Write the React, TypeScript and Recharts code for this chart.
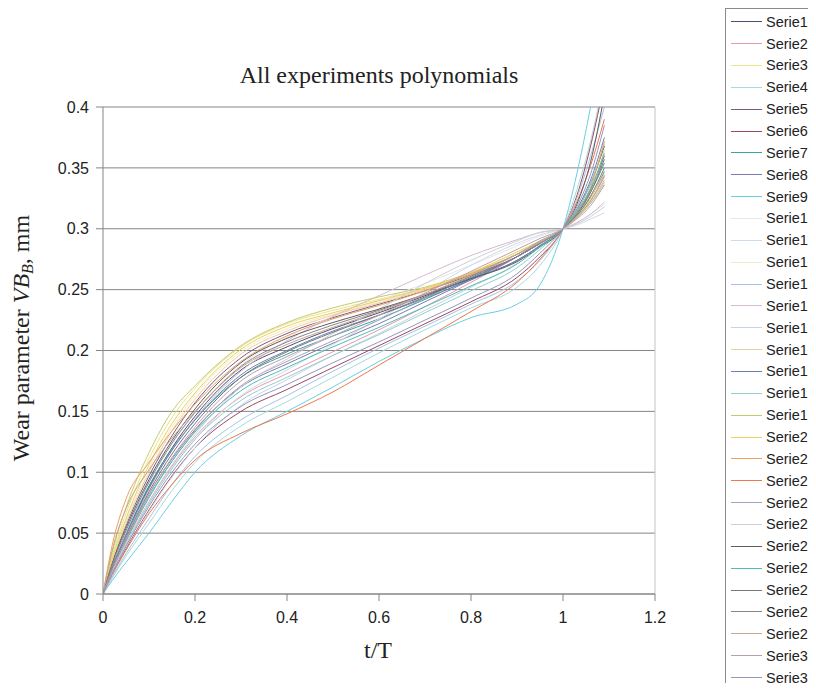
import React from "react";
import {
  LineChart,
  Line,
  XAxis,
  YAxis,
  CartesianGrid,
  Legend,
  ReferenceLine,
  Label,
} from "recharts";

// x positions (t/T) at which each polynomial was read
const T = [0, 0.02, 0.05, 0.1, 0.15, 0.2, 0.3, 0.4, 0.5, 0.6, 0.7, 0.8, 0.9, 0.95, 1, 1.03, 1.06, 1.09];

const serie1 = [0, 0.022, 0.049, 0.088, 0.12, 0.146, 0.184, 0.203, 0.218, 0.231, 0.245, 0.259, 0.274, 0.286, 0.3, 0.315, 0.337, 0.368];
const serie2 = [0, 0.018, 0.041, 0.076, 0.105, 0.129, 0.162, 0.181, 0.199, 0.217, 0.236, 0.256, 0.277, 0.289, 0.3, 0.309, 0.322, 0.34];
const serie3 = [0, 0.031, 0.066, 0.111, 0.145, 0.169, 0.203, 0.222, 0.233, 0.242, 0.251, 0.263, 0.279, 0.289, 0.3, 0.31, 0.325, 0.345];
const serie4 = [0, 0.013, 0.031, 0.058, 0.085, 0.108, 0.138, 0.158, 0.178, 0.198, 0.217, 0.235, 0.252, 0.27, 0.3, 0.332, 0.372, 0.425];
const serie5 = [0, 0.026, 0.056, 0.097, 0.13, 0.157, 0.194, 0.214, 0.227, 0.238, 0.249, 0.262, 0.277, 0.288, 0.3, 0.313, 0.332, 0.36];
const serie6 = [0, 0.016, 0.037, 0.069, 0.097, 0.12, 0.15, 0.168, 0.186, 0.204, 0.222, 0.24, 0.26, 0.277, 0.3, 0.327, 0.368, 0.42];
const serie7 = [0, 0.023, 0.05, 0.089, 0.119, 0.143, 0.178, 0.197, 0.212, 0.226, 0.242, 0.259, 0.277, 0.288, 0.3, 0.312, 0.33, 0.354];
const serie8 = [0, 0.02, 0.045, 0.082, 0.111, 0.135, 0.17, 0.189, 0.206, 0.222, 0.24, 0.258, 0.277, 0.289, 0.3, 0.311, 0.326, 0.347];
const serie9 = [0, 0.011, 0.026, 0.05, 0.076, 0.1, 0.13, 0.15, 0.17, 0.191, 0.21, 0.227, 0.238, 0.254, 0.3, 0.345, 0.4, 0.46];
const serie10 = [0, 0.023, 0.051, 0.091, 0.123, 0.149, 0.188, 0.211, 0.228, 0.241, 0.255, 0.27, 0.286, 0.294, 0.3, 0.305, 0.312, 0.32];
const serie11 = [0, 0.017, 0.04, 0.074, 0.103, 0.127, 0.163, 0.184, 0.205, 0.226, 0.248, 0.27, 0.288, 0.295, 0.3, 0.303, 0.308, 0.313];
const serie12 = [0, 0.028, 0.06, 0.103, 0.137, 0.163, 0.199, 0.218, 0.23, 0.24, 0.251, 0.264, 0.28, 0.29, 0.3, 0.309, 0.322, 0.342];
const serie13 = [0, 0.014, 0.033, 0.062, 0.09, 0.113, 0.143, 0.163, 0.183, 0.202, 0.22, 0.238, 0.257, 0.274, 0.3, 0.325, 0.36, 0.4];
const serie14 = [0, 0.022, 0.048, 0.086, 0.118, 0.144, 0.183, 0.208, 0.228, 0.245, 0.262, 0.278, 0.291, 0.297, 0.3, 0.305, 0.312, 0.322];
const serie15 = [0, 0.015, 0.036, 0.068, 0.096, 0.12, 0.155, 0.176, 0.196, 0.214, 0.233, 0.252, 0.272, 0.287, 0.3, 0.309, 0.321, 0.336];
const serie16 = [0, 0.027, 0.058, 0.1, 0.134, 0.16, 0.197, 0.216, 0.229, 0.239, 0.25, 0.263, 0.279, 0.289, 0.3, 0.31, 0.325, 0.35];
const serie17 = [0, 0.022, 0.048, 0.087, 0.118, 0.143, 0.18, 0.2, 0.216, 0.229, 0.243, 0.258, 0.274, 0.286, 0.3, 0.316, 0.34, 0.375];
const serie18 = [0, 0.018, 0.04, 0.074, 0.103, 0.127, 0.159, 0.178, 0.196, 0.213, 0.231, 0.249, 0.268, 0.283, 0.3, 0.315, 0.337, 0.37];
const serie19 = [0, 0.034, 0.071, 0.116, 0.15, 0.171, 0.204, 0.223, 0.235, 0.244, 0.252, 0.264, 0.279, 0.289, 0.3, 0.309, 0.321, 0.338];
const serie20 = [0, 0.029, 0.062, 0.106, 0.14, 0.165, 0.201, 0.22, 0.231, 0.241, 0.251, 0.264, 0.281, 0.29, 0.3, 0.312, 0.33, 0.365];
const serie21 = [0, 0.04, 0.078, 0.108, 0.134, 0.156, 0.191, 0.212, 0.226, 0.237, 0.249, 0.263, 0.279, 0.289, 0.3, 0.313, 0.334, 0.372];
const serie22 = [0, 0.016, 0.036, 0.066, 0.09, 0.11, 0.132, 0.148, 0.166, 0.188, 0.21, 0.232, 0.256, 0.275, 0.3, 0.322, 0.352, 0.39];
const serie23 = [0, 0.019, 0.043, 0.079, 0.109, 0.134, 0.171, 0.191, 0.208, 0.225, 0.243, 0.261, 0.279, 0.29, 0.3, 0.31, 0.323, 0.343];
const serie24 = [0, 0.018, 0.041, 0.076, 0.106, 0.131, 0.17, 0.193, 0.214, 0.234, 0.255, 0.274, 0.29, 0.297, 0.3, 0.304, 0.31, 0.318];
const serie25 = [0, 0.025, 0.054, 0.094, 0.126, 0.152, 0.19, 0.21, 0.223, 0.234, 0.246, 0.259, 0.273, 0.285, 0.3, 0.32, 0.355, 0.41];
const serie26 = [0, 0.02, 0.044, 0.08, 0.109, 0.133, 0.167, 0.186, 0.203, 0.219, 0.236, 0.253, 0.271, 0.285, 0.3, 0.314, 0.333, 0.362];
const serie27 = [0, 0.021, 0.046, 0.084, 0.115, 0.14, 0.178, 0.199, 0.215, 0.229, 0.244, 0.26, 0.277, 0.288, 0.3, 0.312, 0.33, 0.357];
const serie28 = [0, 0.024, 0.052, 0.092, 0.124, 0.149, 0.187, 0.207, 0.221, 0.233, 0.246, 0.261, 0.277, 0.288, 0.3, 0.311, 0.327, 0.35];
const serie29 = [0, 0.036, 0.07, 0.102, 0.128, 0.15, 0.186, 0.205, 0.219, 0.232, 0.246, 0.262, 0.279, 0.289, 0.3, 0.31, 0.323, 0.344];
const serie30 = [0, 0.02, 0.045, 0.082, 0.112, 0.137, 0.175, 0.195, 0.212, 0.229, 0.247, 0.265, 0.283, 0.292, 0.3, 0.308, 0.319, 0.336];
const serie31 = [0, 0.017, 0.039, 0.072, 0.1, 0.123, 0.154, 0.172, 0.19, 0.207, 0.225, 0.243, 0.263, 0.28, 0.3, 0.318, 0.345, 0.385];

const SERIES_VALUES = [
  serie1, serie2, serie3, serie4, serie5, serie6, serie7, serie8, serie9, serie10,
  serie11, serie12, serie13, serie14, serie15, serie16, serie17, serie18, serie19, serie20,
  serie21, serie22, serie23, serie24, serie25, serie26, serie27, serie28, serie29, serie30, serie31,
];

const SERIES_NAMES = SERIES_VALUES.map((_, i) => `Serie${i + 1}`);

const SERIES_COLORS = [
  "#4e4e70", "#e39ab4", "#e6e68a", "#a6dade", "#7a5a8a", "#9a4a5c", "#3aa3a3", "#7c7cb2",
  "#6ccfe0", "#e6e6e6", "#cfdaea", "#efefc4", "#a6c2e8", "#d6bad0", "#c6d2e8", "#efcf9e",
  "#6e7fb8", "#96cfca", "#c6ca6e", "#efcf5e", "#efa05e", "#ef784e", "#9ea6b6", "#cecfd6",
  "#5e5e5e", "#4ebfae", "#767676", "#86868e", "#c6a68e", "#bf9fae", "#9696be",
];

const X_TICKS = [0, 0.2, 0.4, 0.6, 0.8, 1, 1.2];
const Y_TICKS = [0, 0.05, 0.1, 0.15, 0.2, 0.25, 0.3, 0.35, 0.4];

const SERIES = SERIES_VALUES.map((vals, i) => ({
  name: SERIES_NAMES[i],
  color: SERIES_COLORS[i],
  data: T.map((t, j) => ({ t, v: vals[j] })),
}));

const SERIF = "'Liberation Serif', 'Times New Roman', serif";
const SANS = "'Liberation Sans', Arial, sans-serif";

const renderLegend = (props: any) => {
  const payload = [...(props.payload || [])].sort(
    (a: any, b: any) => SERIES_NAMES.indexOf(a.value) - SERIES_NAMES.indexOf(b.value)
  );
  return (
    <div
      style={{
        boxSizing: "border-box",
        width: 91,
        height: 683,
        borderLeft: "1px solid #8a8a8a",
        borderTop: "1px solid #8a8a8a",
        background: "#fff",
        overflow: "hidden",
        paddingTop: 1.8,
      }}
    >
      {payload.map((entry: any, i: number) => (
        <div
          key={i}
          style={{
            height: 21.87,
            display: "flex",
            alignItems: "center",
            whiteSpace: "nowrap",
            overflow: "visible",
          }}
        >
          <div
            style={{
              marginLeft: 5,
              width: 31,
              height: 1,
              background: SERIES_COLORS[SERIES_NAMES.indexOf(entry.value)],
              flex: "none",
            }}
          />
          <span
            style={{
              marginLeft: 4,
              flex: "none",
              fontFamily: SANS,
              fontSize: 14.5,
              color: "#222",
              lineHeight: "16px",
            }}
          >
            {entry.value}
          </span>
        </div>
      ))}
    </div>
  );
};

export default function App() {
  return (
    <div style={{ position: "relative", width: 808, height: 675 }}>
      <LineChart
        width={808}
        height={683}
        margin={{ top: 99, right: 161, bottom: 67, left: 0 }}
      >
        <CartesianGrid horizontal vertical={false} stroke="#858585" strokeWidth={1} />
        <XAxis
          dataKey="t"
          type="number"
          domain={[0, 1.2]}
          ticks={X_TICKS}
          allowDataOverflow
          height={30}
          tickSize={7}
          tickMargin={11}
          stroke="#858585"
          tick={{ fill: "#222", fontFamily: SANS, fontSize: 16 }}
          tickLine={{ stroke: "#858585" }}
        >
          <Label
            content={() => (
              <text x={370} y={650} textAnchor="middle" fontFamily={SERIF} fontSize={24} fill="#222">
                t/T
              </text>
            )}
          />
        </XAxis>
        <YAxis
          type="number"
          domain={[0, 0.4]}
          ticks={Y_TICKS}
          allowDataOverflow
          width={95}
          tickSize={7}
          tickMargin={7}
          stroke="#858585"
          tick={{ fill: "#222", fontFamily: SANS, fontSize: 16 }}
          tickLine={{ stroke: "#858585" }}
        >
          <Label
            content={() => (
              <text
                transform="translate(21,330) rotate(-90)"
                textAnchor="middle"
                fontFamily={SERIF}
                fontSize={24}
                fill="#222"
              >
                Wear parameter <tspan fontStyle="italic">VB</tspan>
                <tspan fontStyle="italic" fontSize={16} dy={4}>B</tspan>
                <tspan dy={-4}>, mm</tspan>
              </text>
            )}
          />
        </YAxis>
        <ReferenceLine x={1.2} stroke="#c4c4c4" strokeWidth={1} ifOverflow="extendDomain" />
        {SERIES.map((s) => (
          <Line
            key={s.name}
            data={s.data}
            dataKey="v"
            name={s.name}
            type="monotone"
            stroke={s.color}
            strokeWidth={1}
            dot={false}
            activeDot={false}
            isAnimationActive={false}
          />
        ))}
        <Legend
          layout="vertical"
          align="center"
          verticalAlign="middle"
          wrapperStyle={{ left: 717, top: 0, width: 91, height: 683 }}
          content={renderLegend}
        />
      </LineChart>
      <div
        style={{
          position: "absolute",
          left: 0,
          top: 55,
          width: 742,
          textAlign: "center",
          fontFamily: SERIF,
          fontSize: 24,
          lineHeight: "24px",
          color: "#222",
          pointerEvents: "none",
        }}
      >
        All experiments polynomials
      </div>
    </div>
  );
}
